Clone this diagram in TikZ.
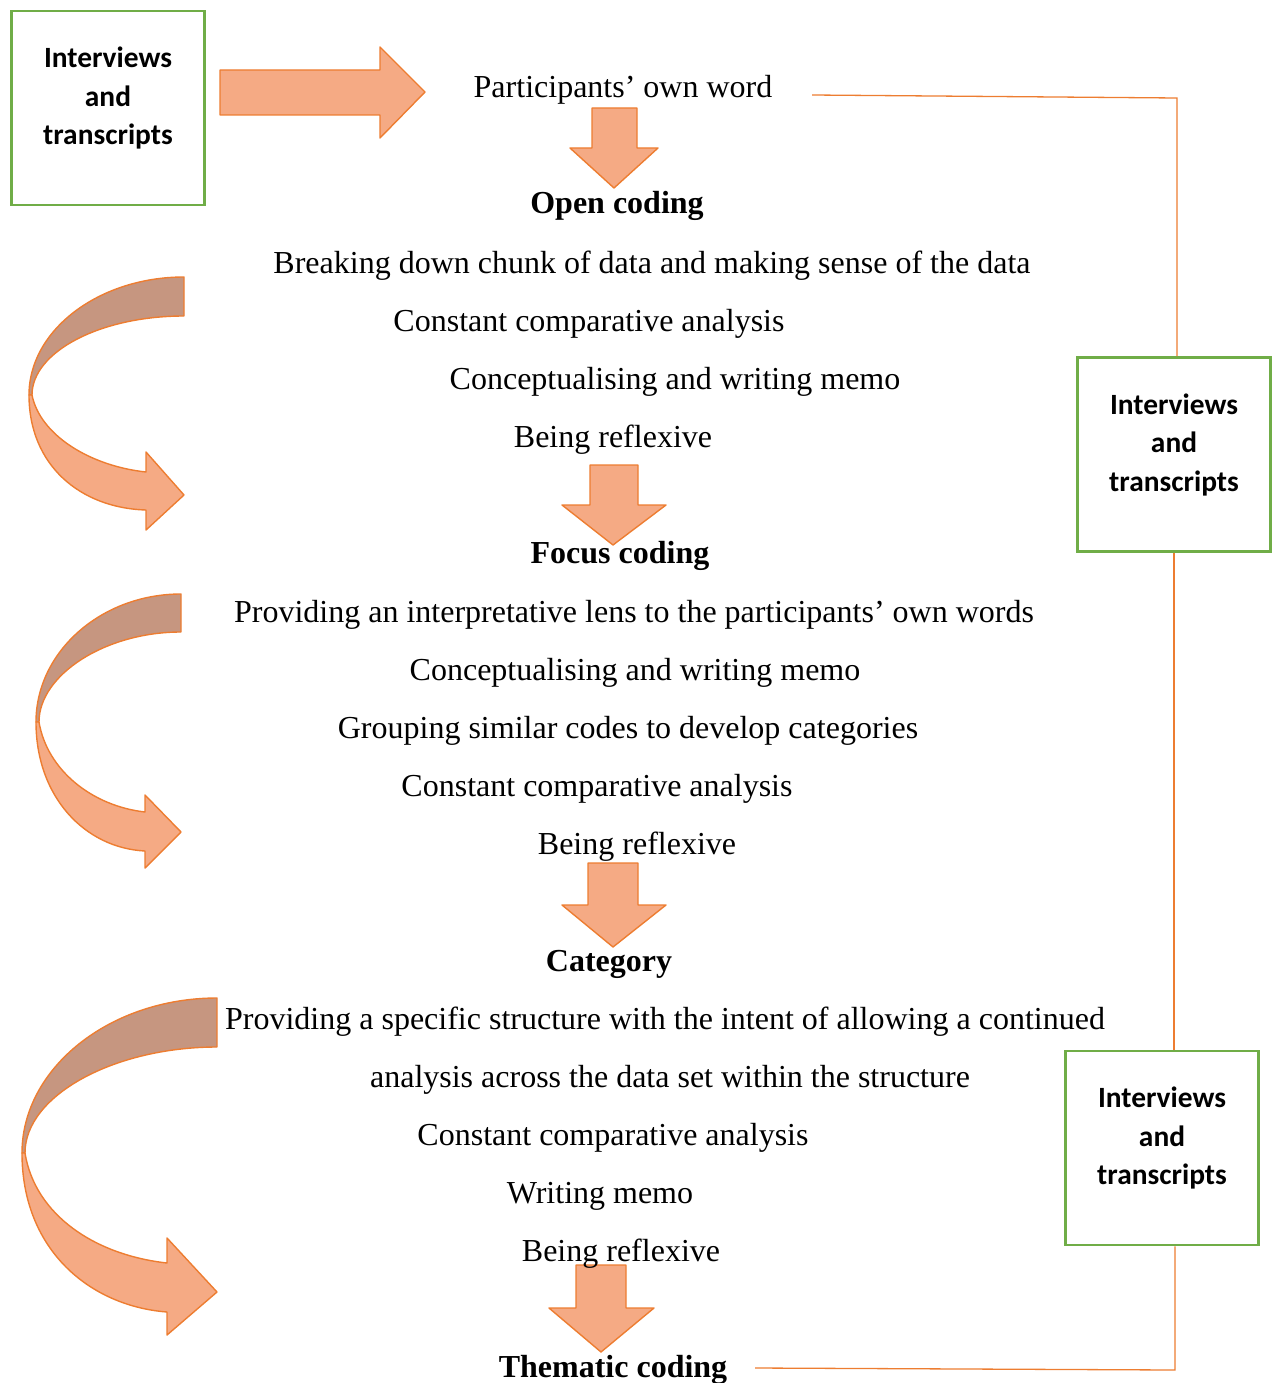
\documentclass[tikz,border=0pt]{standalone}
\usepackage{fontspec}
\setmainfont{Liberation Serif}
\newfontfamily\boxfont{Carlito}
\definecolor{aorange}{RGB}{237,125,49}
\definecolor{alight}{RGB}{245,170,132}
\definecolor{adark}{RGB}{198,150,128}
\definecolor{agreen}{RGB}{112,173,71}
\tikzset{
  lightpart/.style={fill=alight,draw=aorange,line width=1.4pt,line join=round},
  darkpart/.style={fill=adark,draw=aorange,line width=1.4pt,line join=round},
  txt/.style={anchor=base,inner sep=0pt,font=\fontsize{32}{38}\selectfont},
  hd/.style={txt,font=\fontsize{32}{38}\selectfont\bfseries},
  ibox/.style={draw=agreen,line width=2.6pt,minimum width=193pt,minimum height=194pt,inner sep=0pt},
  boxtxt/.style={align=center,inner sep=0pt,font=\boxfont\bfseries\fontsize{29.4}{38.5}\selectfont},
  conn/.style={draw=aorange,line width=1.3pt}
}
\begin{document}
\begin{tikzpicture}[x=1pt,y=-1pt]
\useasboundingbox (0,0) rectangle (1272,1383);
% right block arrow
\path[lightpart] (220,70) -- (380,70) -- (380,47) -- (425,92) -- (380,138) -- (380,115) -- (220,115) -- cycle;
% down block arrows
\path[lightpart] (592,108) -- (637,108) -- (637,148) -- (658,148) -- (614,188) -- (570,148) -- (592,148) -- cycle;
\path[lightpart] (590,465) -- (638,465) -- (638,505) -- (666,505) -- (613,545) -- (562,505) -- (590,505) -- cycle;
\path[lightpart] (588,863) -- (638,863) -- (638,905) -- (666,905) -- (613,947) -- (562,905) -- (588,905) -- cycle;
\path[lightpart] (576,1265) -- (626,1265) -- (626,1308) -- (654,1308) -- (601,1352) -- (549,1308) -- (576,1308) -- cycle;
% curved arrow 1
\path[darkpart] (184,277) .. controls (99,277) and (29,330) .. (29,395) -- (32,395) .. controls (32,352) and (100,316) .. (184,316) -- cycle;
\path[lightpart] (29,395) .. controls (29,465) and (80,508) .. (146,510) -- (146,530) -- (184,495) -- (146,452) -- (146,472) .. controls (90,466) and (40,435) .. (32,395) -- cycle;
% curved arrow 2
\path[darkpart] (181,594) .. controls (101,594) and (36,652) .. (36,722) -- (39,722) .. controls (39,675) and (105,632) .. (181,632) -- cycle;
\path[lightpart] (36,722) .. controls (36,797) and (85,848) .. (145,851) -- (145,868) -- (181,832) -- (145,795) -- (145,812) .. controls (92,806) and (47,770) .. (39,722) -- cycle;
% curved arrow 3
\path[darkpart] (217,998) .. controls (110,998) and (22,1068) .. (22,1153) -- (25,1153) .. controls (25,1095) and (115,1047) .. (217,1047) -- cycle;
\path[lightpart] (22,1153) .. controls (22,1250) and (90,1306) .. (167,1312) -- (167,1335) -- (217,1292) -- (167,1238) -- (167,1263) .. controls (95,1255) and (35,1215) .. (25,1153) -- cycle;
% boxes
\node[ibox] (box1) at (108,108) {};
\node[ibox] (box2) at (1174,454.5) {};
\node[ibox] (box3) at (1162,1148) {};
\node[boxtxt] (bt1) at ([yshift=10pt]box1.center) {Interviews\\and\\transcripts};
\node[boxtxt] (bt2) at ([yshift=10pt]box2.center) {Interviews\\and\\transcripts};
\node[boxtxt] (bt3) at ([yshift=10pt]box3.center) {Interviews\\and\\transcripts};
% texts
\node[txt] (pw) at (623,98) {Participants’ own word};
\node[hd] (oc) at (617,214) {Open coding};
\node[txt] (o1) at (652,273) {Breaking down chunk of data and making sense of the data};
\node[txt] (o2) at (589,331) {Constant comparative analysis};
\node[txt] (o3) at (675,389) {Conceptualising and writing memo};
\node[txt] (o4) at (613,447) {Being reflexive};
\node[hd] (fc) at (620,563) {Focus coding};
\node[txt] (f1) at (634,622) {Providing an interpretative lens to the participants’ own words};
\node[txt] (f2) at (635,680) {Conceptualising and writing memo};
\node[txt] (f3) at (628,738) {Grouping similar codes to develop categories};
\node[txt] (f4) at (597,796) {Constant comparative analysis};
\node[txt] (f5) at (637,854) {Being reflexive};
\node[hd] (ca) at (609,971) {Category};
\node[txt] (c1) at (665,1029) {Providing a specific structure with the intent of allowing a continued};
\node[txt] (c2) at (670,1087) {analysis across the data set within the structure};
\node[txt] (c3) at (613,1145) {Constant comparative analysis};
\node[txt] (c4) at (600,1203) {Writing memo};
\node[txt] (c5) at (621,1261) {Being reflexive};
\node[hd] (tc) at (613,1377) {Thematic coding};
% connectors
\coordinate (k0) at (812,95);
\coordinate (k1) at (1177,98);
\coordinate (k2) at (1175,1370);
\coordinate (k3) at (755,1368);
\draw[conn] (k0) -- (k1) -- (k1 |- box2.north);
\draw[conn] (box2.south) -- (box2.south |- box3.north);
\draw[conn] (k2 |- box3.south) -- (k2) -- (k3);
\end{tikzpicture}
\end{document}
